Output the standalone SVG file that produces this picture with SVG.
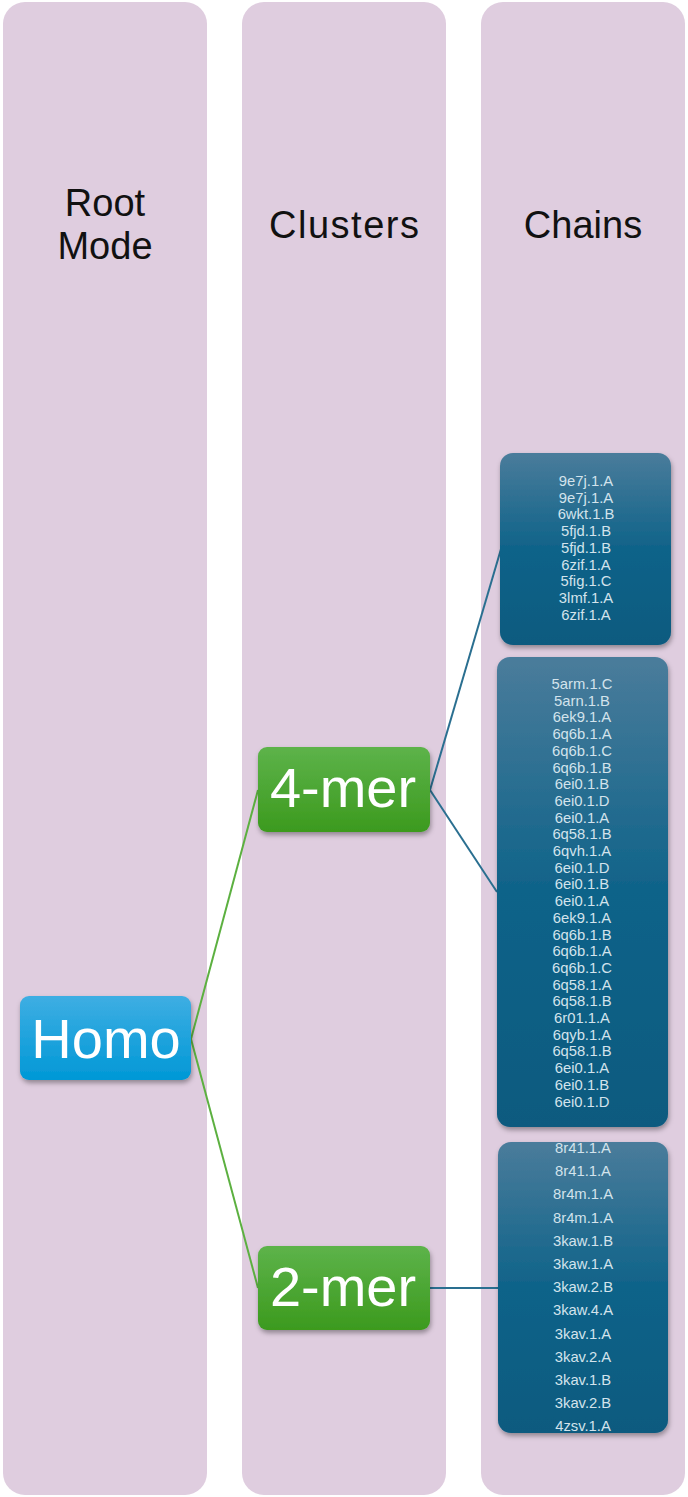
<svg xmlns="http://www.w3.org/2000/svg" width="688" height="1497" viewBox="0 0 688 1497">
<style>
.col{fill:#dfcddf}
.hdr{font-family:"Liberation Sans",Arial,sans-serif;font-size:38px;fill:#111;text-anchor:middle}
.big{font-family:"Liberation Sans",Arial,sans-serif;font-size:56px;fill:#fff;text-anchor:middle}
.ch{font-family:"Liberation Sans",Arial,sans-serif;font-size:14.8px;fill:#d3e3ec;text-anchor:middle}
.cg{fill:none;stroke:#5cb040;stroke-width:2}
.cb{fill:none;stroke:#2a6f90;stroke-width:2}
</style>
<defs>
<linearGradient id="gBlue" x1="0" y1="0" x2="0" y2="1"><stop offset="0" stop-color="#3eaee3"/><stop offset="1" stop-color="#0098d6"/></linearGradient>
<linearGradient id="gGreen" x1="0" y1="0" x2="0" y2="1"><stop offset="0" stop-color="#5db34a"/><stop offset="1" stop-color="#3c9a1e"/></linearGradient>
<linearGradient id="gChain" x1="0" y1="0" x2="0" y2="1"><stop offset="0" stop-color="#4a7c9b"/><stop offset="0.5" stop-color="#0f6389"/><stop offset="1" stop-color="#0a5a7f"/></linearGradient>
<filter id="sh" x="-10%" y="-10%" width="125%" height="125%"><feDropShadow dx="1" dy="3" stdDeviation="2.5" flood-color="#000" flood-opacity="0.35"/></filter>
</defs>
<rect width="688" height="1497" fill="#fff"/>
<g id="col-root"><rect class="col" x="3" y="2" width="204" height="1493" rx="22"/><text class="hdr" x="105" y="216">Root</text><text class="hdr" x="105" y="259">Mode</text></g>
<g id="col-clusters"><rect class="col" x="242" y="2" width="204" height="1493" rx="22"/><text class="hdr" x="344" y="238" textLength="150">Clusters</text></g>
<g id="col-chains"><rect class="col" x="481" y="2" width="204" height="1493" rx="22"/><text class="hdr" x="583" y="238">Chains</text></g>
<g id="connectors">
<line class="cg" x1="191" y1="1039" x2="258" y2="790"/>
<line class="cg" x1="191" y1="1039" x2="258" y2="1288"/>
<line class="cb" x1="430" y1="790" x2="501" y2="549"/>
<line class="cb" x1="430" y1="790" x2="497" y2="892"/>
<line class="cb" x1="430" y1="1288" x2="498" y2="1288"/>
</g>
<g id="node-homo"><rect x="20" y="996" width="171" height="84" rx="9" fill="url(#gBlue)" filter="url(#sh)"/><text class="big" x="106" y="1058">Homo</text></g>
<g id="node-4mer"><rect x="258" y="747" width="172" height="85" rx="9" fill="url(#gGreen)" filter="url(#sh)"/><text class="big" x="343" y="807">4-mer</text></g>
<g id="node-2mer"><rect x="258" y="1246" width="172" height="84" rx="9" fill="url(#gGreen)" filter="url(#sh)"/><text class="big" x="343" y="1306">2-mer</text></g>
<g id="chains-a"><rect x="500" y="453" width="171" height="192" rx="13" fill="url(#gChain)" filter="url(#sh)"/>
<text class="ch" x="586" y="486">9e7j.1.A</text>
<text class="ch" x="586" y="502.7">9e7j.1.A</text>
<text class="ch" x="586" y="519.4">6wkt.1.B</text>
<text class="ch" x="586" y="536.1">5fjd.1.B</text>
<text class="ch" x="586" y="552.8">5fjd.1.B</text>
<text class="ch" x="586" y="569.5">6zif.1.A</text>
<text class="ch" x="586" y="586.2">5fig.1.C</text>
<text class="ch" x="586" y="602.9">3lmf.1.A</text>
<text class="ch" x="586" y="619.6">6zif.1.A</text>
</g>
<g id="chains-b"><rect x="497" y="657" width="171" height="470" rx="13" fill="url(#gChain)" filter="url(#sh)"/>
<text class="ch" x="582" y="689">5arm.1.C</text>
<text class="ch" x="582" y="705.7">5arn.1.B</text>
<text class="ch" x="582" y="722.4">6ek9.1.A</text>
<text class="ch" x="582" y="739.1">6q6b.1.A</text>
<text class="ch" x="582" y="755.8">6q6b.1.C</text>
<text class="ch" x="582" y="772.5">6q6b.1.B</text>
<text class="ch" x="582" y="789.2">6ei0.1.B</text>
<text class="ch" x="582" y="805.9">6ei0.1.D</text>
<text class="ch" x="582" y="822.6">6ei0.1.A</text>
<text class="ch" x="582" y="839.3">6q58.1.B</text>
<text class="ch" x="582" y="856">6qvh.1.A</text>
<text class="ch" x="582" y="872.7">6ei0.1.D</text>
<text class="ch" x="582" y="889.4">6ei0.1.B</text>
<text class="ch" x="582" y="906.1">6ei0.1.A</text>
<text class="ch" x="582" y="922.8">6ek9.1.A</text>
<text class="ch" x="582" y="939.5">6q6b.1.B</text>
<text class="ch" x="582" y="956.2">6q6b.1.A</text>
<text class="ch" x="582" y="972.9">6q6b.1.C</text>
<text class="ch" x="582" y="989.6">6q58.1.A</text>
<text class="ch" x="582" y="1006.3">6q58.1.B</text>
<text class="ch" x="582" y="1023">6r01.1.A</text>
<text class="ch" x="582" y="1039.7">6qyb.1.A</text>
<text class="ch" x="582" y="1056.4">6q58.1.B</text>
<text class="ch" x="582" y="1073.1">6ei0.1.A</text>
<text class="ch" x="582" y="1089.8">6ei0.1.B</text>
<text class="ch" x="582" y="1106.5">6ei0.1.D</text>
</g>
<g id="chains-c"><rect x="498" y="1142" width="170" height="291" rx="13" fill="url(#gChain)" filter="url(#sh)"/>
<text class="ch" x="583" y="1153">8r41.1.A</text>
<text class="ch" x="583" y="1176.2">8r41.1.A</text>
<text class="ch" x="583" y="1199.4">8r4m.1.A</text>
<text class="ch" x="583" y="1222.6">8r4m.1.A</text>
<text class="ch" x="583" y="1245.8">3kaw.1.B</text>
<text class="ch" x="583" y="1269">3kaw.1.A</text>
<text class="ch" x="583" y="1292.2">3kaw.2.B</text>
<text class="ch" x="583" y="1315.4">3kaw.4.A</text>
<text class="ch" x="583" y="1338.6">3kav.1.A</text>
<text class="ch" x="583" y="1361.8">3kav.2.A</text>
<text class="ch" x="583" y="1385">3kav.1.B</text>
<text class="ch" x="583" y="1408.2">3kav.2.B</text>
<text class="ch" x="583" y="1431.4">4zsv.1.A</text>
</g>
</svg>
